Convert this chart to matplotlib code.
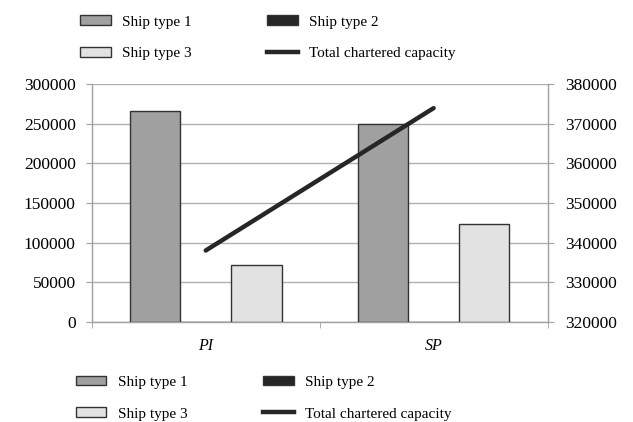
import numpy as np
import matplotlib
matplotlib.use("Agg")
import matplotlib.pyplot as plt
from matplotlib.patches import Patch
from matplotlib.lines import Line2D

# data
categories = ["PI", "SP"]
ship_type1 = [266000, 250000]
ship_type2 = [0, 0]
ship_type3 = [72000, 124000]
total_capacity = [338000, 374000]

plt.rcParams['font.family'] = ['Liberation Serif', 'DejaVu Serif']
plt.rcParams['font.size'] = 11

fig = plt.figure(figsize=(6.33, 4.22), dpi=100)
ax = fig.add_axes([0.145, 0.2377, 0.72, 0.5623])
ax2 = ax.twinx()

x = np.arange(len(categories))
w = 0.222
edge = '#333333'
ax.bar(x - w, ship_type1, w, color='#a0a0a0', edgecolor=edge, linewidth=1, zorder=3)
ax.bar(x, ship_type2, w, color='#262626', edgecolor=edge, linewidth=1, zorder=3)
ax.bar(x + w, ship_type3, w, color='#e2e2e2', edgecolor=edge, linewidth=1, zorder=3)
ax2.plot(x, total_capacity, color='#262626', lw=3.2, solid_capstyle='round', zorder=4)

ax.set_xlim(-0.5, 1.5)
ax.set_ylim(0, 300000)
ax.set_yticks(np.arange(0, 300001, 50000))
ax2.set_ylim(320000, 380000)
ax2.set_yticks(np.arange(320000, 380001, 10000))
ax.yaxis.grid(True, color='#b0b0b0', lw=1, zorder=0)
ax.set_axisbelow(True)

ax.set_xticks(x)
ax.set_xticklabels(categories, style='italic', fontsize=11.5)
ax.set_xticks([-0.5, 0.5, 1.5], minor=True)
ax.tick_params(axis='x', which='major', length=0, pad=12)
ax.tick_params(axis='x', which='minor', length=4, color='#a0a0a0')
ax.tick_params(axis='y', length=4, color='#a0a0a0', pad=7.5, labelsize=12.5)
ax2.tick_params(axis='y', length=4, color='#a0a0a0', pad=8.5, labelsize=12.5)

for a in (ax, ax2):
    a.spines['top'].set_visible(False)
    for s in ('left', 'right', 'bottom'):
        a.spines[s].set_color('#a0a0a0')
        a.spines[s].set_linewidth(1)
ax.spines['right'].set_visible(False)
ax2.spines['left'].set_visible(False)
ax2.spines['bottom'].set_visible(False)

# legend drawn above and below the plot, as in the figure
handles = [
    Patch(facecolor='#a0a0a0', edgecolor=edge, label='Ship type 1'),
    Patch(facecolor='#e2e2e2', edgecolor=edge, label='Ship type 3'),
    Patch(facecolor='#262626', edgecolor=edge, label='Ship type 2'),
    Line2D([0], [0], color='#262626', lw=3.2, label='Total chartered capacity'),
]
for xx, yy in ((0.117, 0.978), (0.11, 0.124)):
    fig.legend(handles=handles, ncol=2, loc='upper left', bbox_to_anchor=(xx, yy),
               frameon=False, handlelength=2.0, handleheight=0.6, handletextpad=0.75,
               columnspacing=4.95, labelspacing=1.2, borderaxespad=0)

fig.savefig('out.png', dpi=100)
